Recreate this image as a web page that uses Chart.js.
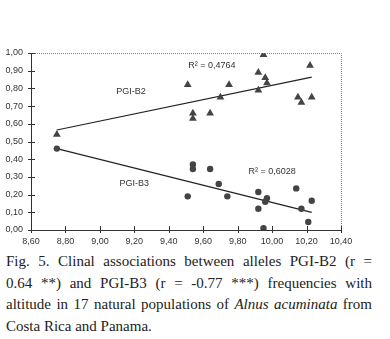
<!DOCTYPE html>
<html>
<head>
<meta charset="utf-8">
<script src="https://cdn.jsdelivr.net/npm/chart.js@4/dist/chart.umd.min.js"></script>
<style>
  html, body { margin: 0; padding: 0; background: #fff; }
  #wrap { position: relative; width: 390px; height: 250px; }
  #caption {
    position: absolute; left: 6px; top: 251px; width: 366px;
    font-family: "Liberation Serif", "DejaVu Serif", serif;
    font-size: 15px; line-height: 21.7px; color: #222;
  }
  #caption span { display: block; text-align: justify; text-align-last: justify; white-space: nowrap; }
  #caption span.last { text-align-last: left; }
</style>
</head>
<body>
<div id="wrap"><canvas id="chart"></canvas></div>
<div id="caption">
  <span>Fig. 5. Clinal associations between alleles PGI-B2 (r =</span>
  <span>0.64 **) and PGI-B3 (r = -0.77 ***) frequencies with</span>
  <span>altitude in 17 natural populations of <i>Alnus acuminata</i> from</span>
  <span class="last">Costa Rica and Panama.</span>
</div>
<script>
// altitude (log scale values) and allele frequencies
var b2X = [8.75, 9.51, 9.54, 9.54, 9.64, 9.70, 9.75, 9.92, 9.95, 9.92, 9.96, 9.97, 10.22, 10.15, 10.17, 10.23];
var b2Y = [0.54, 0.82, 0.66, 0.63, 0.66, 0.75, 0.82, 0.89, 0.99, 0.79, 0.86, 0.83, 0.93, 0.75, 0.72, 0.75];
var b3X = [8.75, 9.51, 9.54, 9.54, 9.64, 9.69, 9.74, 9.92, 9.92, 9.95, 9.97, 9.96, 10.14, 10.17, 10.23, 10.21];
var b3Y = [0.46, 0.19, 0.37, 0.345, 0.345, 0.26, 0.19, 0.215, 0.12, 0.01, 0.18, 0.16, 0.235, 0.12, 0.165, 0.045];

// trend line end points
var b2TrendX = [8.75, 10.23];
var b2TrendY = [0.565, 0.864];
var b3TrendX = [8.75, 10.23];
var b3TrendY = [0.46, 0.10];

var xTicks = ['8,60', '8,80', '9,00', '9,20', '9,40', '9,60', '9,80', '10,00', '10,20', '10,40'];
var yTicks = ['0,00', '0,10', '0,20', '0,30', '0,40', '0,50', '0,60', '0,70', '0,80', '0,90', '1,00'];

// text labels placed in data coordinates
var notes = [
  { text: 'PGI-B2', x: 9.18, y: 0.78 },
  { text: 'R\u00b2 = 0,4764', x: 9.65, y: 0.93 },
  { text: 'PGI-B3', x: 9.20, y: 0.265 },
  { text: 'R\u00b2 = 0,6028', x: 10.00, y: 0.33 }
];

function pairs(xs, ys) {
  return xs.map(function (x, i) { return { x: x, y: ys[i] }; });
}

var axisColor = '#333';

var decorations = {
  id: 'decorations',
  afterDraw: function (chart) {
    var c = chart.ctx, a = chart.chartArea;
    var xs = chart.scales.x, ys = chart.scales.y;
    c.save();
    // dotted frame on top and right
    c.strokeStyle = '#888';
    c.lineWidth = 1;
    c.setLineDash([1, 1]);
    c.beginPath();
    c.moveTo(a.left, a.top + 0.5);
    c.lineTo(a.right + 0.5, a.top + 0.5);
    c.lineTo(a.right + 0.5, a.bottom);
    c.stroke();
    c.setLineDash([]);
    // tick marks crossing the axes
    c.strokeStyle = axisColor;
    c.beginPath();
    ys.ticks.forEach(function (t) {
      var py = Math.round(ys.getPixelForValue(t.value)) + 0.5;
      c.moveTo(a.left - 3, py);
      c.lineTo(a.left + 4, py);
    });
    xs.ticks.forEach(function (t) {
      var px = Math.round(xs.getPixelForValue(t.value)) + 0.5;
      c.moveTo(px, a.bottom - 4);
      c.lineTo(px, a.bottom + 3);
    });
    c.stroke();
    // text notes
    c.fillStyle = '#333';
    c.font = '9px "Liberation Sans", Arial, sans-serif';
    c.textAlign = 'center';
    c.textBaseline = 'middle';
    notes.forEach(function (n) {
      c.fillText(n.text, xs.getPixelForValue(n.x), ys.getPixelForValue(n.y));
    });
    c.restore();
  }
};

new Chart(document.getElementById('chart').getContext('2d'), {
  type: 'scatter',
  data: {
    datasets: [
      {
        label: 'PGI-B2',
        data: pairs(b2X, b2Y),
        pointStyle: 'triangle',
        pointRadius: 4.5,
        backgroundColor: '#444',
        borderColor: '#444',
        borderWidth: 0
      },
      {
        label: 'PGI-B3',
        data: pairs(b3X, b3Y),
        pointStyle: 'circle',
        pointRadius: 3.2,
        backgroundColor: '#444',
        borderColor: '#444',
        borderWidth: 0
      },
      {
        type: 'line',
        label: 'B2 trend',
        data: pairs(b2TrendX, b2TrendY),
        borderColor: '#222',
        borderWidth: 1.2,
        pointRadius: 0,
        fill: false
      },
      {
        type: 'line',
        label: 'B3 trend',
        data: pairs(b3TrendX, b3TrendY),
        borderColor: '#222',
        borderWidth: 1.2,
        pointRadius: 0,
        fill: false
      }
    ]
  },
  options: {
    responsive: true,
    maintainAspectRatio: false,
    animation: false,
    layout: { padding: { left: 0, top: 53, right: 49, bottom: 0 } },
    scales: {
      x: {
        type: 'linear',
        min: 8.6,
        max: 10.4,
        afterBuildTicks: function (scale) {
          scale.ticks = xTicks.map(function (s) { return { value: parseFloat(s.replace(',', '.')) }; });
        },
        afterFit: function (scale) { scale.height = 20; },
        grid: { display: false, drawTicks: false },
        border: { display: true, color: axisColor, width: 1 },
        ticks: {
          padding: 6,
          maxRotation: 0,
          autoSkip: false,
          color: '#333',
          font: { family: '"Liberation Sans", Arial, sans-serif', size: 9 },
          callback: function (v, i) { return xTicks[i]; }
        }
      },
      y: {
        min: 0,
        max: 1,
        afterBuildTicks: function (scale) {
          scale.ticks = yTicks.map(function (s) { return { value: parseFloat(s.replace(',', '.')) }; });
        },
        afterFit: function (scale) { scale.width = 31; },
        grid: { display: false, drawTicks: false },
        border: { display: true, color: axisColor, width: 1 },
        ticks: {
          padding: 8,
          autoSkip: false,
          color: '#333',
          font: { family: '"Liberation Sans", Arial, sans-serif', size: 9 },
          callback: function (v, i) { return yTicks[i]; }
        }
      }
    },
    plugins: {
      legend: { display: false },
      tooltip: { enabled: false }
    }
  },
  plugins: [decorations]
});
</script>
</body>
</html>
